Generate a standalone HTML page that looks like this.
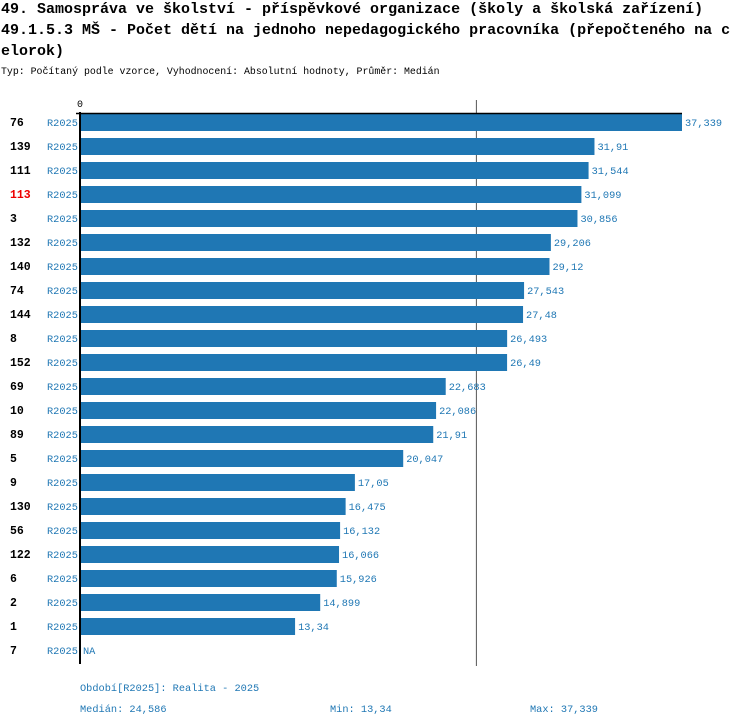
<!DOCTYPE html>
<html><head><meta charset="utf-8"><style>
body{margin:0;background:#fff;width:750px;height:726px;overflow:hidden;font-family:"Liberation Mono",monospace}
.t{position:absolute;left:1px;font-size:15px;font-weight:bold;color:#000;white-space:nowrap;line-height:17px}
</style></head><body>
<div class="t" style="top:1px">49. Samospráva ve školství - příspěvkové organizace (školy a školská zařízení)</div>
<div class="t" style="top:22px">49.1.5.3 MŠ - Počet dětí na jednoho nepedagogického pracovníka (přepočteného na c</div>
<div class="t" style="top:43px">elorok)</div>
<div style="position:absolute;left:1px;top:66px;font-size:9.9px;white-space:nowrap">Typ: Počítaný podle vzorce, Vyhodnocení: Absolutní hodnoty, Průměr: Medián</div>
<svg id="c" width="750" height="726" style="position:absolute;left:0;top:0" font-family="Liberation Mono, monospace"></svg>
<script>
const categories=["76","139","111","113","3","132","140","74","144","8","152","69","10","89","5","9","130","56","122","6","2","1","7"];
const values=[37.339,31.91,31.544,31.099,30.856,29.206,29.12,27.543,27.48,26.493,26.49,22.683,22.086,21.91,20.047,17.05,16.475,16.132,16.066,15.926,14.899,13.34,null];
const valueLabels=["37,339","31,91","31,544","31,099","30,856","29,206","29,12","27,543","27,48","26,493","26,49","22,683","22,086","21,91","20,047","17,05","16,475","16,132","16,066","15,926","14,899","13,34","NA"];
const highlighted=["113"];
const median=24.586;
const x0=80,scale=(682-80)/37.339;
const xs=v=>x0+v*scale;
const rowY=i=>122+i*24;
const svg=document.getElementById('c');
const NS="http://www.w3.org/2000/svg";
function mk(tag,attrs,txt){const e=document.createElementNS(NS,tag);for(const k in attrs)e.setAttribute(k,attrs[k]);if(txt!=null)e.textContent=txt;svg.appendChild(e);return e;}
let ml=mk('line',{x1:xs(median),x2:xs(median),y1:100,y2:666,stroke:'#555','stroke-width':1});


categories.forEach((c,i)=>{
 const y=rowY(i);
 let l=mk('text',{x:10,y:y+4,'font-size':11.5,'font-weight':'bold',fill:highlighted.includes(c)?'#e00':'#000'},c);
 
 
 let p=mk('text',{x:47,y:y+4,'font-size':10.3,fill:'#1f77b4'},'R2025');
 
 
 let end=x0;
 if(values[i]!=null){
  end=xs(values[i]);
  let b=mk('rect',{x:x0,y:y-8,width:end-x0,height:17,fill:'#1f77b4'});
  
  
 }
 let v=mk('text',{x:end+3,y:y+4,'font-size':10.3,fill:'#1f77b4'},valueLabels[i]);
 
 
});
let ax=mk('line',{x1:80,x2:80,y1:112,y2:664,stroke:'#000','stroke-width':2});


let tx=mk('line',{x1:76,x2:682,y1:113.5,y2:113.5,stroke:'#000','stroke-width':1.5});


let z=mk('text',{x:77,y:107,'font-size':10},'0');


[["Období[R2025]: Realita - 2025",80,691,'legend-period'],["Medián: 24,586",80,712,'median-stat'],["Min: 13,34",330,712,'min-stat'],["Max: 37,339",530,712,'max-stat']].forEach(a=>{
 let t=mk('text',{x:a[1],y:a[2],'font-size':10.3,fill:'#1f77b4'},a[0]);
 
 
});
</script>
</body></html>
